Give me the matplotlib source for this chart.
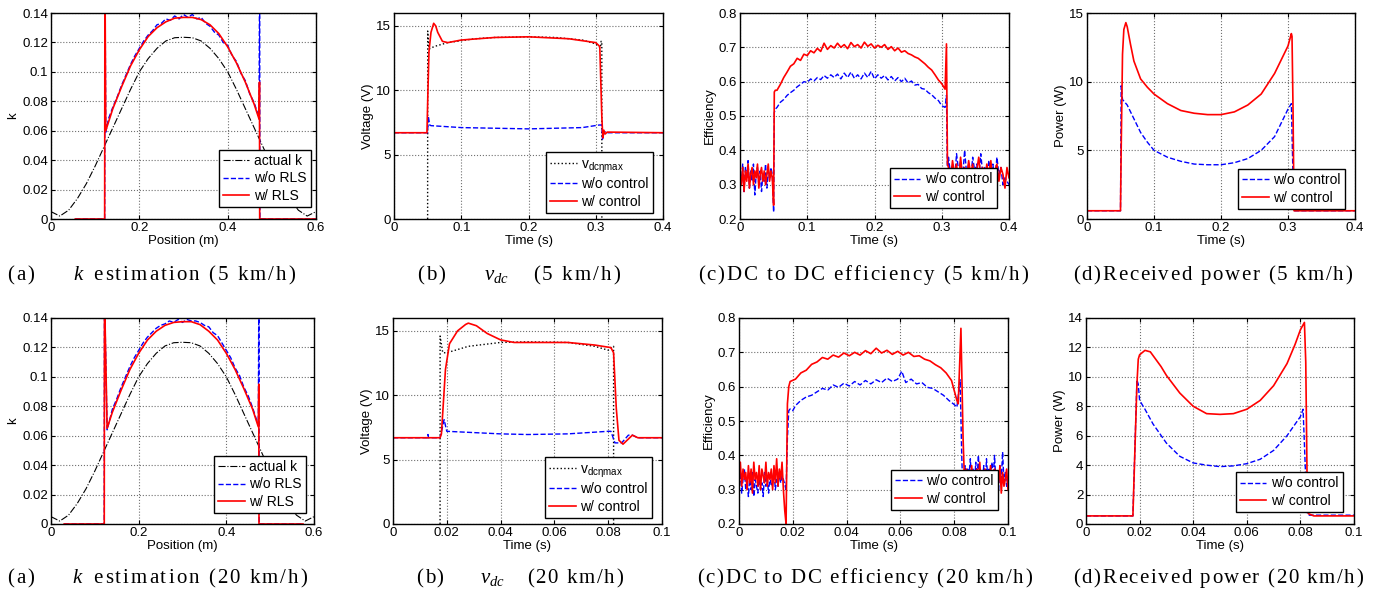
import re
import numpy as np
import matplotlib
matplotlib.use("Agg")
import matplotlib.pyplot as plt
from matplotlib.ticker import FuncFormatter

plt.rcParams['font.family'] = ['Liberation Sans', 'DejaVu Sans']
plt.rcParams['mathtext.fontset'] = 'custom'
plt.rcParams['mathtext.rm'] = 'Liberation Serif'
plt.rcParams['mathtext.it'] = 'Liberation Serif:italic'

# ---------------- (a) k estimation ----------------
pos_act = [0, 0.02, 0.04, 0.06, 0.08, 0.1, 0.12, 0.14, 0.16, 0.18, 0.2, 0.22, 0.24, 0.26, 0.28, 0.3,
           0.32, 0.34, 0.36, 0.38, 0.4, 0.42, 0.44, 0.46, 0.48, 0.5, 0.52, 0.54, 0.56, 0.58, 0.6]
k_act = [0.005, 0.002, 0.006, 0.014, 0.024, 0.036, 0.049, 0.062, 0.075, 0.088, 0.1, 0.109, 0.116, 0.121, 0.1232, 0.1235,
         0.1232, 0.121, 0.116, 0.109, 0.1, 0.088, 0.075, 0.062, 0.049, 0.036, 0.024, 0.014, 0.006, 0.002, 0.005]

pos_rls5 = [0.055, 0.1215, 0.122, 0.1225, 0.124, 0.14, 0.16, 0.18, 0.2, 0.22, 0.24, 0.26, 0.28, 0.3, 0.32, 0.34,
            0.36, 0.38, 0.4, 0.42, 0.44, 0.46, 0.471, 0.472, 0.4725, 0.473, 0.6]
k_rls5 = [0, 0, 0.15, 0.15, 0.06, 0.075, 0.09, 0.104, 0.115, 0.124, 0.13, 0.134, 0.1365, 0.137, 0.137, 0.1355,
          0.132, 0.126, 0.117, 0.106, 0.093, 0.078, 0.068, 0.093, 0.0, 0, 0]
pos_wo5 = [0.055, 0.1215, 0.122, 0.1225, 0.124, 0.13, 0.14, 0.15, 0.16, 0.17, 0.18, 0.19, 0.2, 0.21, 0.22, 0.23,
           0.24, 0.25, 0.26, 0.27, 0.28, 0.29, 0.3, 0.31, 0.32, 0.33, 0.34, 0.35, 0.36, 0.37, 0.38, 0.39, 0.4,
           0.41, 0.42, 0.43, 0.44, 0.45, 0.46, 0.471, 0.472, 0.4725, 0.473, 0.6]
k_wo5 = [0, 0, 0.15, 0.15, 0.059, 0.068, 0.076, 0.083, 0.091, 0.098, 0.105, 0.111, 0.116, 0.121, 0.125, 0.128,
         0.132, 0.133, 0.136, 0.135, 0.138, 0.136, 0.139, 0.137, 0.139, 0.136, 0.137, 0.133, 0.131, 0.127, 0.125, 0.120, 0.118,
         0.111, 0.107, 0.099, 0.094, 0.085, 0.079, 0.069, 0.15, 0.15, 0, 0]

pos_rls20 = [0.03, 0.1215, 0.122, 0.1225, 0.128, 0.14, 0.16, 0.18, 0.2, 0.22, 0.24, 0.26, 0.28, 0.3, 0.32, 0.34,
             0.36, 0.38, 0.4, 0.42, 0.44, 0.46, 0.473, 0.474, 0.4745, 0.475, 0.575]
k_rls20 = [0, 0, 0.15, 0.15, 0.065, 0.076, 0.091, 0.105, 0.116, 0.125, 0.131, 0.135, 0.137, 0.1375, 0.1375, 0.1355,
           0.131, 0.125, 0.116, 0.105, 0.092, 0.078, 0.066, 0.095, 0.0, 0, 0]
pos_wo20 = [0.03, 0.1215, 0.122, 0.1225, 0.128, 0.14, 0.15, 0.16, 0.17, 0.18, 0.19, 0.2, 0.21, 0.22, 0.23,
            0.24, 0.25, 0.26, 0.27, 0.28, 0.29, 0.3, 0.31, 0.32, 0.33, 0.34, 0.35, 0.36, 0.37, 0.38, 0.39, 0.4,
            0.41, 0.42, 0.43, 0.44, 0.45, 0.46, 0.473, 0.474, 0.4745, 0.475, 0.575]
k_wo20 = [0, 0, 0.15, 0.15, 0.064, 0.078, 0.085, 0.093, 0.100, 0.107, 0.113, 0.118, 0.123, 0.127, 0.130,
          0.133, 0.135, 0.136, 0.138, 0.137, 0.139, 0.137, 0.139, 0.138, 0.138, 0.137, 0.135, 0.134, 0.130, 0.128, 0.123, 0.118,
          0.113, 0.106, 0.101, 0.093, 0.087, 0.079, 0.067, 0.15, 0.15, 0, 0]

# ---------------- (b) vdc ----------------
t_vmax5 = [0.05, 0.0501, 0.052, 0.06, 0.08, 0.1, 0.12, 0.15, 0.2, 0.24, 0.26, 0.28, 0.3, 0.307, 0.308, 0.309, 0.3091]
v_vmax5 = [0, 14.6, 13.2, 13.4, 13.7, 13.85, 14.0, 14.1, 14.15, 14.1, 14.0, 13.9, 13.6, 13.3, 13.8, 13.8, 0]
t_vwo5 = [0, 0.05, 0.051, 0.053, 0.055, 0.1, 0.2, 0.28, 0.305, 0.309, 0.31, 0.313, 0.316, 0.4]
v_vwo5 = [6.7, 6.7, 8.0, 7.3, 7.25, 7.1, 7.0, 7.1, 7.3, 7.3, 6.2, 6.8, 6.7, 6.7]
t_vw5 = [0, 0.049, 0.0505, 0.052, 0.055, 0.059, 0.062, 0.065, 0.072, 0.08, 0.1, 0.15, 0.2, 0.26, 0.3, 0.306,
         0.309, 0.3105, 0.312, 0.314, 0.317, 0.4]
v_vw5 = [6.7, 6.7, 10.0, 13.0, 14.5, 15.2, 15.0, 14.5, 13.8, 13.7, 13.9, 14.1, 14.15, 14.0, 13.7, 13.4,
         8.0, 6.3, 6.9, 6.6, 6.75, 6.7]

t_vmax20 = [0.0175, 0.01751, 0.0185, 0.02, 0.028, 0.04, 0.05, 0.065, 0.075, 0.08, 0.0815, 0.082, 0.08201]
v_vmax20 = [0, 14.6, 13.3, 13.3, 13.8, 14.1, 14.15, 14.1, 13.8, 13.5, 13.8, 13.8, 0]
t_vwo20 = [0, 0.0128, 0.013, 0.0132, 0.0175, 0.019, 0.02, 0.04, 0.05, 0.065, 0.08, 0.081, 0.0825, 0.085,
           0.0875, 0.089, 0.091, 0.1]
v_vwo20 = [6.7, 6.7, 6.95, 6.7, 6.7, 8.1, 7.2, 7.0, 6.95, 7.0, 7.2, 7.2, 6.3, 6.3, 6.9, 6.9, 6.7, 6.7]
t_vw20 = [0, 0.0175, 0.018, 0.0195, 0.021, 0.024, 0.027, 0.028, 0.031, 0.035, 0.04, 0.045, 0.065, 0.075,
          0.081, 0.082, 0.083, 0.084, 0.0855, 0.087, 0.089, 0.091, 0.1]
v_vw20 = [6.7, 6.7, 7.0, 12.0, 14.0, 15.0, 15.5, 15.6, 15.4, 14.8, 14.3, 14.1, 14.1, 13.9,
          13.7, 13.3, 9.0, 6.5, 6.2, 6.5, 6.9, 6.7, 6.7]

# ---------------- (c) efficiency ----------------
t_pre5 = np.arange(0, 0.05, 0.002)
eff_w_pre5 = [0.33, 0.30, 0.35, 0.28, 0.34, 0.31, 0.36, 0.29, 0.33, 0.35, 0.30, 0.34, 0.32,
              0.36, 0.29, 0.33, 0.35, 0.31, 0.34, 0.30, 0.33, 0.36, 0.31, 0.34, 0.32]
eff_wo_pre5 = [0.34, 0.30, 0.36, 0.28, 0.35, 0.32, 0.37, 0.29, 0.34, 0.31, 0.36, 0.27, 0.33,
               0.35, 0.30, 0.34, 0.28, 0.33, 0.31, 0.36, 0.29, 0.34, 0.32, 0.35, 0.33]
t_mid5 = np.arange(0.055, 0.3051, 0.005)
eff_w_mid5 = [0.575, 0.592, 0.612, 0.628, 0.645, 0.652, 0.668, 0.662, 0.680, 0.676, 0.690, 0.684, 0.697,
              0.688, 0.712, 0.694, 0.705, 0.698, 0.712, 0.700, 0.708, 0.696, 0.714, 0.702, 0.708, 0.698,
              0.715, 0.703, 0.710, 0.698, 0.706, 0.700, 0.708, 0.694, 0.702, 0.690, 0.698, 0.686, 0.690,
              0.682, 0.678, 0.672, 0.668, 0.660, 0.652, 0.642, 0.634, 0.620, 0.605, 0.594, 0.578]
eff_wo_mid5 = [0.525, 0.540, 0.548, 0.560, 0.568, 0.575, 0.585, 0.592, 0.600, 0.598, 0.608, 0.602, 0.612,
               0.606, 0.618, 0.610, 0.620, 0.612, 0.622, 0.608, 0.625, 0.612, 0.628, 0.610, 0.620, 0.608,
               0.625, 0.612, 0.630, 0.608, 0.620, 0.610, 0.618, 0.605, 0.615, 0.602, 0.612, 0.600, 0.610,
               0.596, 0.602, 0.590, 0.592, 0.580, 0.578, 0.568, 0.562, 0.552, 0.545, 0.530, 0.525]
t_post5 = np.arange(0.31, 0.4001, 0.003)
eff_w_post5 = [0.35, 0.31, 0.37, 0.33, 0.36, 0.30, 0.38, 0.32, 0.35, 0.31, 0.37, 0.33, 0.36, 0.30, 0.34, 0.38,
               0.32, 0.35, 0.31, 0.36, 0.33, 0.37, 0.30, 0.34, 0.36, 0.31, 0.35, 0.33, 0.29, 0.35, 0.32]
eff_wo_post5 = [0.38, 0.33, 0.36, 0.31, 0.39, 0.34, 0.37, 0.32, 0.40, 0.33, 0.36, 0.31, 0.38, 0.34, 0.36, 0.32,
                0.39, 0.33, 0.35, 0.31, 0.37, 0.34, 0.36, 0.31, 0.38, 0.33, 0.35, 0.30, 0.32, 0.31, 0.30]
t_jump_w5 = [0.05, 0.051, 0.0525]
eff_jump_w5 = [0.24, 0.57, 0.575]
t_drop_w5 = [0.307, 0.3085]
eff_drop_w5 = [0.71, 0.36]
t_jump_wo5 = [0.05, 0.051, 0.0525]
eff_jump_wo5 = [0.22, 0.51, 0.52]
t_drop_wo5 = [0.307, 0.3085]
eff_drop_wo5 = [0.56, 0.33]

t_pre20 = np.arange(0, 0.0166, 0.0005)
eff_w_pre20 = [0.34, 0.38, 0.31, 0.36, 0.33, 0.35, 0.30, 0.37, 0.32, 0.36, 0.29, 0.38, 0.33, 0.35, 0.31, 0.37, 0.30,
               0.36, 0.34, 0.32, 0.38, 0.31, 0.35, 0.33, 0.36, 0.30, 0.37, 0.32, 0.39, 0.31, 0.36, 0.33, 0.38, 0.30]
eff_wo_pre20 = [0.31, 0.35, 0.29, 0.33, 0.36, 0.30, 0.32, 0.28, 0.34, 0.30, 0.35, 0.28, 0.33, 0.31, 0.29, 0.34, 0.30,
                0.32, 0.28, 0.35, 0.31, 0.33, 0.29, 0.34, 0.31, 0.32, 0.36, 0.30, 0.33, 0.31, 0.35, 0.32, 0.34, 0.33]
t_w_mid20 = [0.017, 0.0175, 0.018, 0.0185, 0.019, 0.021, 0.023, 0.025, 0.027, 0.029, 0.031, 0.033, 0.035, 0.037,
             0.039, 0.041, 0.043, 0.045, 0.047, 0.049, 0.051, 0.053, 0.055, 0.057, 0.059, 0.061, 0.063,
             0.065, 0.067, 0.069, 0.071, 0.073, 0.075, 0.077, 0.079, 0.081, 0.0815, 0.0825, 0.0833, 0.0838]
eff_w_mid20 = [0.24, 0.20, 0.55, 0.60, 0.615, 0.622, 0.640, 0.648, 0.665, 0.672, 0.685, 0.680, 0.692, 0.686,
               0.698, 0.690, 0.700, 0.692, 0.705, 0.696, 0.712, 0.698, 0.706, 0.694, 0.703, 0.692, 0.700,
               0.688, 0.690, 0.680, 0.675, 0.664, 0.655, 0.640, 0.618, 0.560, 0.55, 0.77, 0.45, 0.33]
t_wo_mid20 = [0.0175, 0.018, 0.0185, 0.019, 0.020, 0.021, 0.023, 0.025, 0.027, 0.029, 0.031, 0.033, 0.035, 0.037,
              0.039, 0.041, 0.043, 0.045, 0.047, 0.049, 0.051, 0.053, 0.055, 0.057, 0.059, 0.0605, 0.062,
              0.064, 0.066, 0.068, 0.070, 0.072, 0.074, 0.076, 0.078, 0.080, 0.081, 0.0822, 0.0828, 0.083]
eff_wo_mid20 = [0.30, 0.45, 0.53, 0.535, 0.530, 0.545, 0.560, 0.570, 0.575, 0.585, 0.595, 0.590, 0.605, 0.598,
                0.610, 0.602, 0.615, 0.605, 0.618, 0.608, 0.620, 0.612, 0.625, 0.615, 0.622, 0.645, 0.612,
                0.622, 0.608, 0.612, 0.598, 0.595, 0.585, 0.575, 0.560, 0.548, 0.540, 0.62, 0.40, 0.35]
t_w_post20 = np.arange(0.084, 0.1001, 0.0005)
eff_w_post20 = [0.32, 0.36, 0.30, 0.35, 0.33, 0.37, 0.31, 0.35, 0.29, 0.36, 0.33, 0.38, 0.31, 0.34, 0.30, 0.36, 0.32,
                0.35, 0.29, 0.37, 0.33, 0.31, 0.36, 0.30, 0.34, 0.32, 0.37, 0.29, 0.35, 0.31, 0.33, 0.36, 0.30]
t_wo_post20 = np.arange(0.0835, 0.1001, 0.0005)
eff_wo_post20 = [0.33, 0.37, 0.31, 0.36, 0.34, 0.39, 0.32, 0.36, 0.30, 0.38, 0.33, 0.40, 0.31, 0.35, 0.32, 0.37, 0.30,
                 0.39, 0.33, 0.36, 0.31, 0.38, 0.34, 0.40, 0.32, 0.35, 0.30, 0.37, 0.33, 0.41, 0.32, 0.35, 0.31, 0.34]

# ---------------- (d) received power ----------------
t_pw5 = [0, 0.05, 0.051, 0.053, 0.055, 0.058, 0.06, 0.065, 0.07, 0.08, 0.09, 0.1, 0.12, 0.14, 0.16, 0.18, 0.2,
         0.22, 0.24, 0.26, 0.28, 0.29, 0.3, 0.305, 0.306, 0.3075, 0.309, 0.4]
p_w5 = [0.6, 0.6, 5.0, 12.0, 13.8, 14.3, 14.0, 12.7, 11.5, 10.2, 9.6, 9.1, 8.4, 7.9, 7.7, 7.6, 7.6,
        7.8, 8.3, 9.1, 10.6, 11.6, 12.6, 13.5, 13.3, 8.0, 0.6, 0.6]
t_pwo5 = [0, 0.05, 0.051, 0.053, 0.06, 0.07, 0.08, 0.09, 0.1, 0.12, 0.14, 0.16, 0.18, 0.2, 0.22, 0.24, 0.26,
          0.28, 0.29, 0.3, 0.305, 0.3075, 0.31, 0.4]
p_wo5 = [0.6, 0.6, 9.7, 8.7, 8.3, 7.3, 6.3, 5.6, 5.0, 4.5, 4.2, 4.0, 3.95, 3.95, 4.1, 4.4, 5.0,
         6.0, 7.0, 8.0, 8.4, 3.0, 0.6, 0.6]

t_pw20 = [0, 0.0175, 0.019, 0.0195, 0.02, 0.022, 0.024, 0.026, 0.028, 0.03, 0.035, 0.04, 0.045, 0.05, 0.055,
          0.06, 0.065, 0.07, 0.075, 0.078, 0.08, 0.0815, 0.082, 0.0825, 0.083, 0.085, 0.1]
p_w20 = [0.55, 0.55, 9.5, 11.2, 11.5, 11.8, 11.7, 11.2, 10.7, 10.1, 8.9, 8.0, 7.5, 7.45, 7.5,
         7.8, 8.4, 9.4, 10.9, 12.2, 13.2, 13.7, 11.0, 3.0, 0.7, 0.55, 0.55]
t_pwo20 = [0, 0.0175, 0.019, 0.0195, 0.02, 0.022, 0.025, 0.03, 0.035, 0.04, 0.045, 0.05, 0.055, 0.06, 0.065,
           0.07, 0.075, 0.08, 0.081, 0.082, 0.0825, 0.083, 0.1]
p_wo20 = [0.55, 0.55, 9.8, 9.5, 8.4, 7.8, 6.8, 5.5, 4.6, 4.15, 4.0, 3.9, 3.95, 4.1, 4.4,
          5.0, 6.0, 7.3, 7.8, 3.0, 0.8, 0.6, 0.6]

W, H = 1381, 595
fig = plt.figure(figsize=(W / 100, H / 100), dpi=100)


def rect(l, r, t, b):
    return [l / W, 1 - b / H, (r - l) / W, (b - t) / H]


fmt = FuncFormatter(lambda v, p: '%g' % round(v, 6))


def style(ax, xlim, ylim, xt, yt, xlabel, ylabel):
    ax.set_xlim(*xlim)
    ax.set_ylim(*ylim)
    ax.set_xticks(xt)
    ax.set_yticks(yt)
    ax.xaxis.set_major_formatter(fmt)
    ax.yaxis.set_major_formatter(fmt)
    ax.tick_params(direction='in', top=True, right=True, labelsize=9.5, length=3, pad=2)
    ax.grid(True, color='#707070', linestyle=':', linewidth=0.8)
    ax.set_xlabel(xlabel, fontsize=9.5, labelpad=1)
    ax.set_ylabel(ylabel, fontsize=9.5, labelpad=2)
    for s in ax.spines.values():
        s.set_linewidth(1.0)


def legend(ax, right, bottom):
    lg = ax.legend(loc='lower right', bbox_to_anchor=(right, bottom), fontsize=10, fancybox=False,
                   framealpha=1, edgecolor='black', borderpad=0.3, labelspacing=0.25,
                   handlelength=1.9, handletextpad=0.35, borderaxespad=0)
    lg.get_frame().set_linewidth(1.0)


rows_cols = [
    [(51, 316), (394, 663), (740, 1009), (1087, 1355)],
    [(51, 314), (393, 662), (739, 1008), (1086, 1354)],
]
row_tb = [(13, 219), (318, 524)]

vlabel = r'v$_{\mathregular{dc\eta max}}$'

# row 1 (5 km/h) and row 2 (20 km/h)
for r in range(2):
    t, b = row_tb[r]
    cols = rows_cols[r]
    axa = fig.add_axes(rect(cols[0][0], cols[0][1], t, b))
    axb = fig.add_axes(rect(cols[1][0], cols[1][1], t, b))
    axc = fig.add_axes(rect(cols[2][0], cols[2][1], t, b))
    axd = fig.add_axes(rect(cols[3][0], cols[3][1], t, b))

    # (a)
    axa.plot(pos_act, k_act, color='black', linestyle='-.', linewidth=0.8, label='actual k')
    if r == 0:
        axa.plot(pos_wo5, k_wo5, color='blue', linestyle='--', linewidth=1.0, label='w/o RLS')
        axa.plot(pos_rls5, k_rls5, color='red', linestyle='-', linewidth=1.2, label='w/ RLS')
    else:
        axa.plot(pos_wo20, k_wo20, color='blue', linestyle='--', linewidth=1.0, label='w/o RLS')
        axa.plot(pos_rls20, k_rls20, color='red', linestyle='-', linewidth=1.2, label='w/ RLS')
    style(axa, (0, 0.6), (0, 0.14), [0, 0.2, 0.4, 0.6], np.arange(0, 0.141, 0.02), 'Position (m)', 'k')

    # (b)
    if r == 0:
        axb.plot(t_vmax5, v_vmax5, color='black', linestyle=':', linewidth=1.0, label=vlabel)
        axb.plot(t_vwo5, v_vwo5, color='blue', linestyle='--', linewidth=1.0, label='w/o control')
        axb.plot(t_vw5, v_vw5, color='red', linestyle='-', linewidth=1.2, label='w/ control')
        style(axb, (0, 0.4), (0, 16), [0, 0.1, 0.2, 0.3, 0.4], [0, 5, 10, 15], 'Time (s)', 'Voltage (V)')
    else:
        axb.plot(t_vmax20, v_vmax20, color='black', linestyle=':', linewidth=1.0, label=vlabel)
        axb.plot(t_vwo20, v_vwo20, color='blue', linestyle='--', linewidth=1.0, label='w/o control')
        axb.plot(t_vw20, v_vw20, color='red', linestyle='-', linewidth=1.2, label='w/ control')
        style(axb, (0, 0.1), (0, 16), [0, 0.02, 0.04, 0.06, 0.08, 0.1], [0, 5, 10, 15], 'Time (s)', 'Voltage (V)')

    # (c)
    if r == 0:
        t_wo = np.concatenate([t_pre5, t_jump_wo5, t_mid5, t_drop_wo5, t_post5])
        e_wo = np.concatenate([eff_wo_pre5, eff_jump_wo5, eff_wo_mid5, eff_drop_wo5, eff_wo_post5])
        t_w = np.concatenate([t_pre5, t_jump_w5, t_mid5, t_drop_w5, t_post5])
        e_w = np.concatenate([eff_w_pre5, eff_jump_w5, eff_w_mid5, eff_drop_w5, eff_w_post5])
        xt = [0, 0.1, 0.2, 0.3, 0.4]
        xl = (0, 0.4)
    else:
        t_wo = np.concatenate([t_pre20, t_wo_mid20, t_wo_post20])
        e_wo = np.concatenate([eff_wo_pre20, eff_wo_mid20, eff_wo_post20])
        t_w = np.concatenate([t_pre20, t_w_mid20, t_w_post20])
        e_w = np.concatenate([eff_w_pre20, eff_w_mid20, eff_w_post20])
        xt = [0, 0.02, 0.04, 0.06, 0.08, 0.1]
        xl = (0, 0.1)
    axc.plot(t_wo, e_wo, color='blue', linestyle='--', linewidth=1.0, label='w/o control')
    axc.plot(t_w, e_w, color='red', linestyle='-', linewidth=1.2, label='w/ control')
    style(axc, xl, (0.2, 0.8), xt, np.arange(0.2, 0.81, 0.1), 'Time (s)', 'Efficiency')

    # (d)
    if r == 0:
        axd.plot(t_pwo5, p_wo5, color='blue', linestyle='--', linewidth=1.0, label='w/o control')
        axd.plot(t_pw5, p_w5, color='red', linestyle='-', linewidth=1.2, label='w/ control')
        style(axd, (0, 0.4), (0, 15), [0, 0.1, 0.2, 0.3, 0.4], [0, 5, 10, 15], 'Time (s)', 'Power (W)')
    else:
        axd.plot(t_pwo20, p_wo20, color='blue', linestyle='--', linewidth=1.0, label='w/o control')
        axd.plot(t_pw20, p_w20, color='red', linestyle='-', linewidth=1.2, label='w/ control')
        style(axd, (0, 0.1), (0, 14), [0, 0.02, 0.04, 0.06, 0.08, 0.1], np.arange(0, 15, 2), 'Time (s)', 'Power (W)')

    if r == 0:
        legend(axa, 0.981, 0.058)
        legend(axb, 0.963, 0.03)
        legend(axc, 0.955, 0.053)
        legend(axd, 0.963, 0.049)
    else:
        legend(axa, 0.97, 0.053)
        legend(axb, 0.963, 0.03)
        legend(axc, 0.963, 0.068)
        legend(axd, 0.959, 0.058)

# captions, letter-spaced to fill the same span as in the original
renderer = fig.canvas.get_renderer()
cap_size = 15


def spaced_caption(x0, x1, y, s):
    tokens = []
    for part in re.split(r'(\$[^$]*\$)', s):
        if part.startswith('$'):
            tokens.append(part)
        else:
            tokens.extend(list(part))
    space_w = 0.25 * cap_size * 100 / 72
    widths = []
    for tok in tokens:
        if tok == ' ':
            widths.append(space_w)
        else:
            tmp = fig.text(0, 0, tok, family='Liberation Serif', fontsize=cap_size)
            widths.append(tmp.get_window_extent(renderer).width)
            tmp.remove()
    gap = (x1 - x0 - sum(widths)) / (len(tokens) - 1)
    x = x0
    for tok, w in zip(tokens, widths):
        if tok != ' ':
            fig.text(x / W, 1 - y / H, tok, family='Liberation Serif', fontsize=cap_size,
                     ha='left', va='baseline')
        x += w + gap


caps = [
    [(7, 295, r'(a)     $k$ estimation (5 km/h)'), (417, 620, r'(b)     $v_{dc}$   (5 km/h)'),
     (698, 1028, '(c)DC to DC efficiency (5 km/h)'), (1073, 1352, '(d)Received power (5 km/h)')],
    [(7, 307, r'(a)     $k$ estimation (20 km/h)'), (416, 623, r'(b)     $v_{dc}$   (20 km/h)'),
     (697, 1032, '(c)DC to DC efficiency (20 km/h)'), (1073, 1363, '(d)Received power (20 km/h)')],
]
cap_y = [280, 583]
for r in range(2):
    for x0, x1, s in caps[r]:
        spaced_caption(x0, x1, cap_y[r], s)

fig.savefig('out.png', dpi=100)
